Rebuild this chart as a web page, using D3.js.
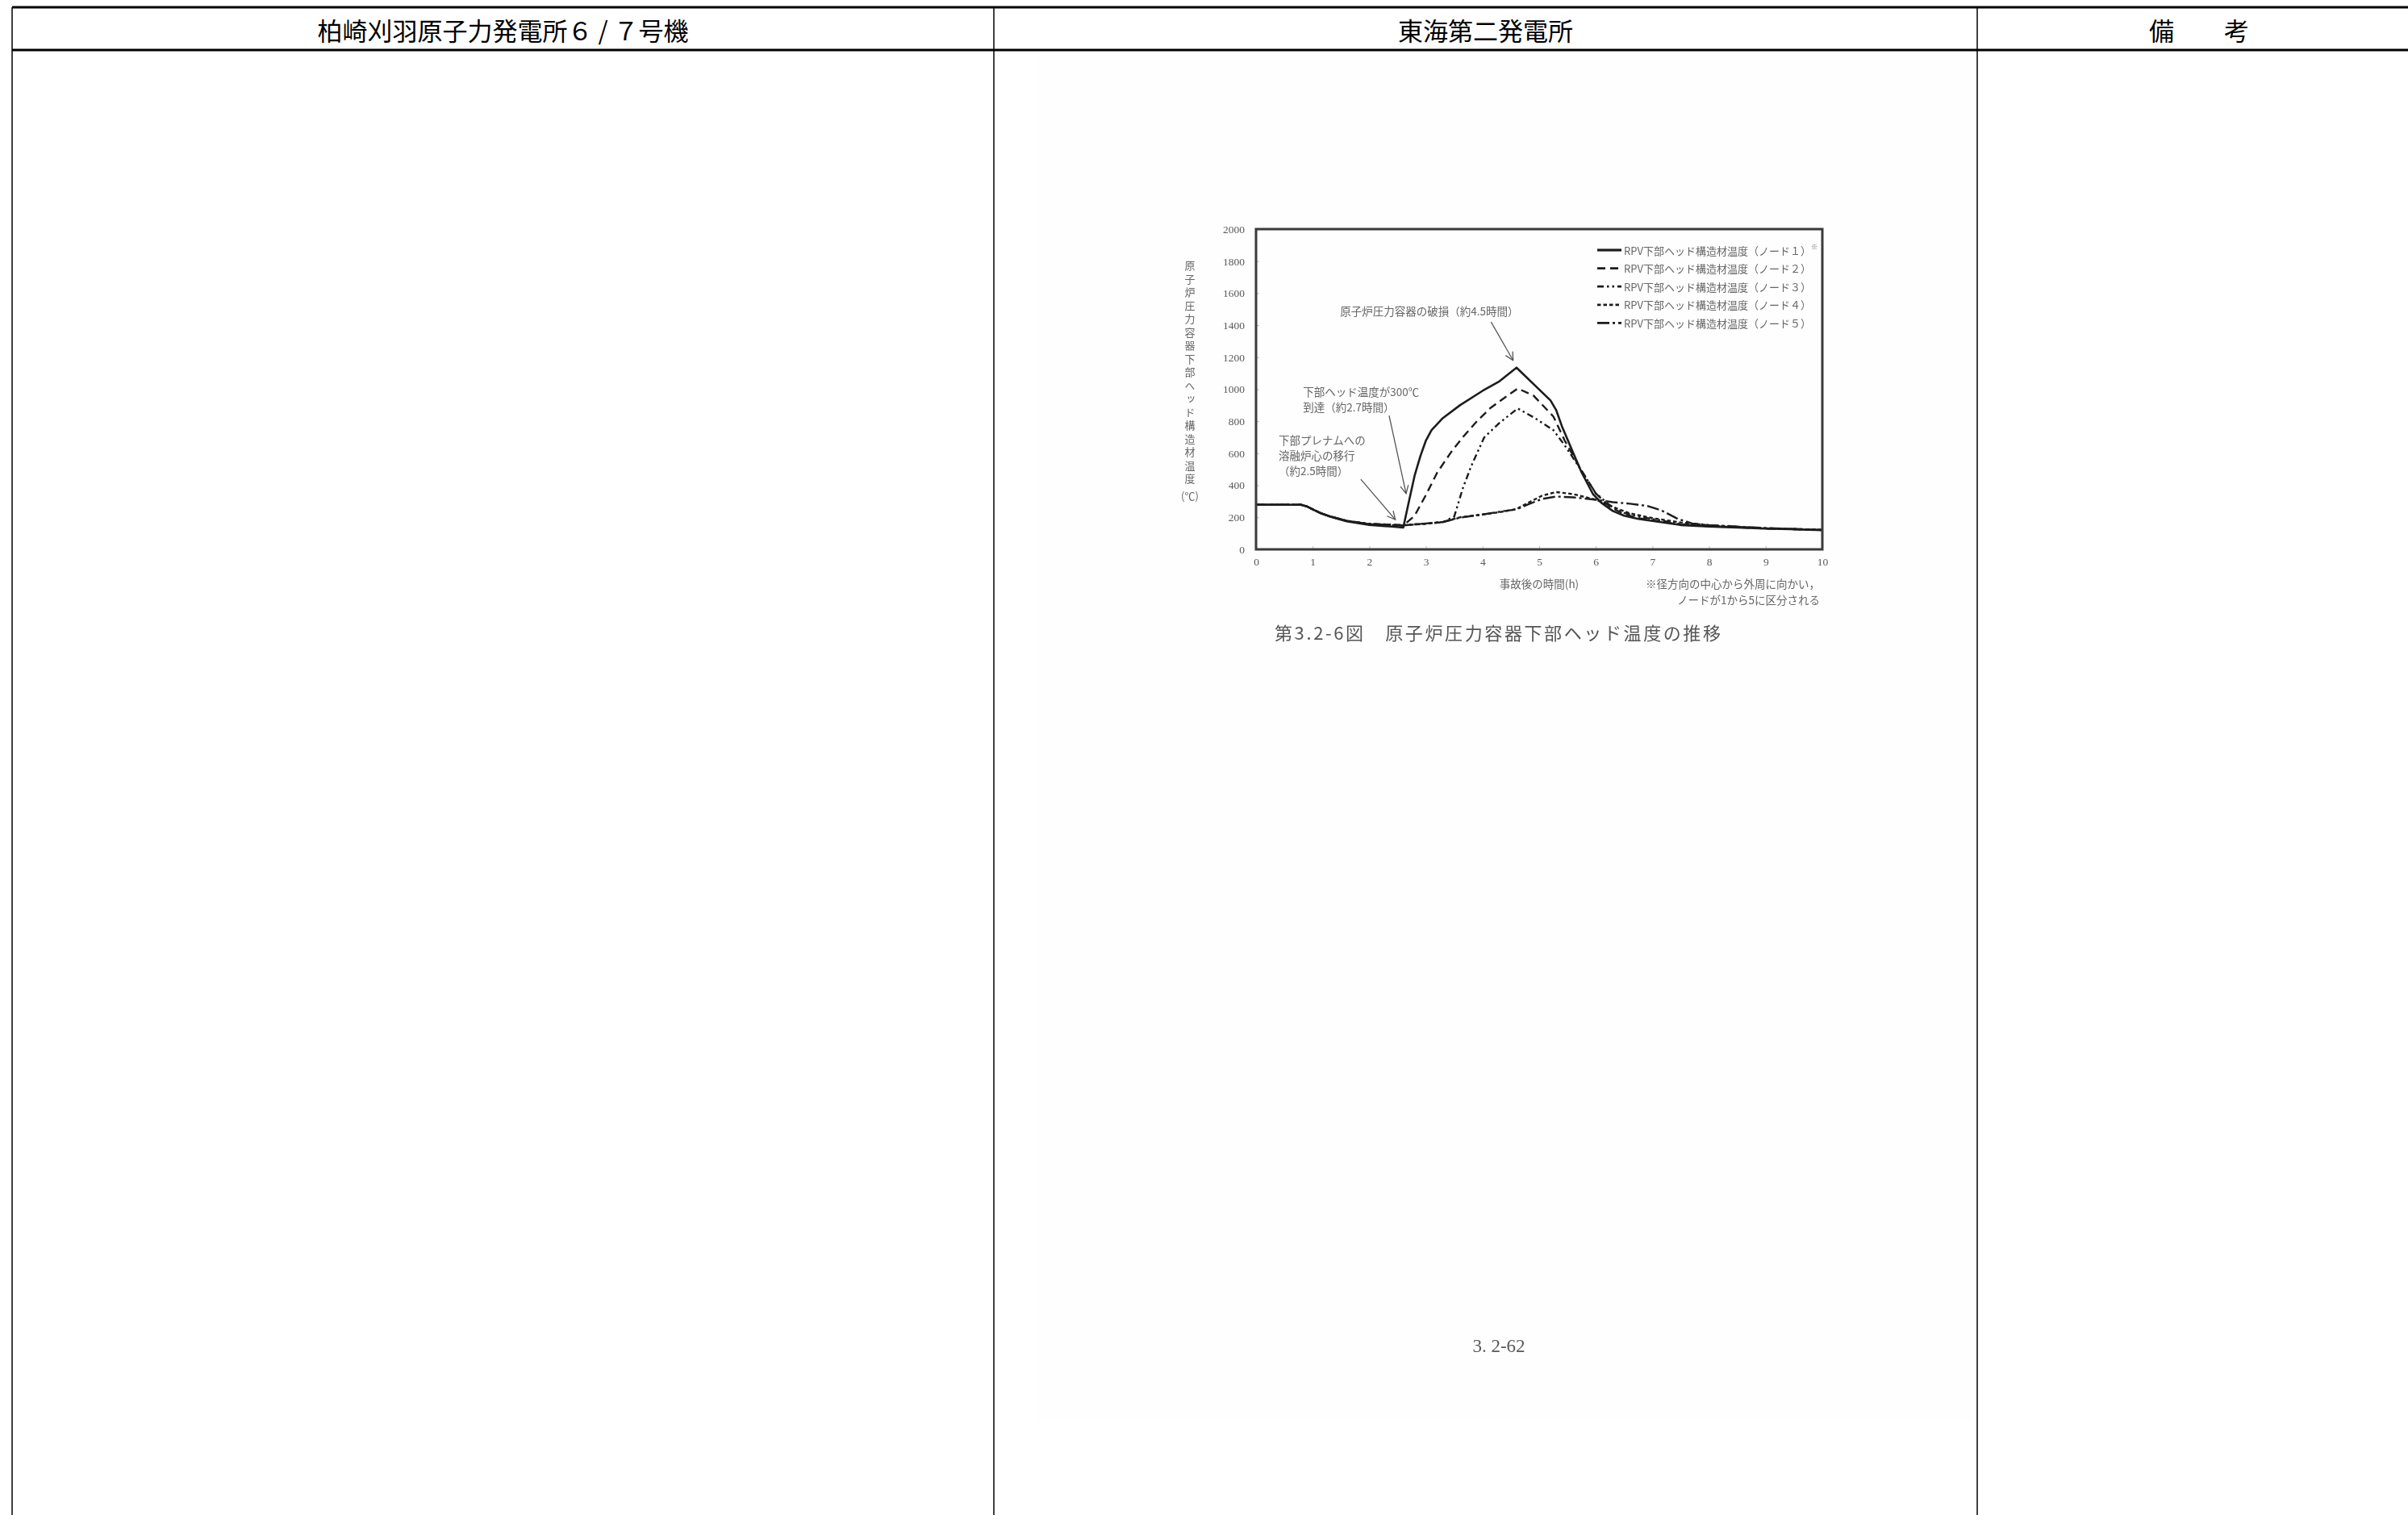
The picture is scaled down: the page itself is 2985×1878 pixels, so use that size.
<!DOCTYPE html>
<html>
<head>
<meta charset="utf-8">
<script src="https://cdn.jsdelivr.net/npm/d3@7"></script>
<style>
  html, body { margin: 0; padding: 0; background: #fff; }
  svg { display: block; }
</style>
</head>
<body>
<svg id="page" width="2985" height="1878"></svg>
<script>
// ---- table headings ----
const columnTitles = ["柏崎刈羽原子力発電所６ / ７号機", "東海第二発電所", "備　　考"];

// ---- axis ticks ----
const yTicks = [0, 200, 400, 600, 800, 1000, 1200, 1400, 1600, 1800, 2000];
const xTicks = [0, 1, 2, 3, 4, 5, 6, 7, 8, 9, 10];

// ---- lower-head structural temperature (°C) vs. time after accident (h) ----
const node1Time = [0, 0.8, 0.9, 1.0, 1.15, 1.3, 1.6, 2.0, 2.4, 2.6, 2.7, 2.8, 2.9, 3.0, 3.1, 3.3, 3.6, 4.0, 4.3, 4.6, 5.2, 5.3, 5.4, 5.55, 5.75, 5.95, 6.1, 6.3, 6.5, 6.75, 7.0, 7.5, 8.0, 9.0, 10];
const node1Temp = [278, 278, 268, 250, 225, 205, 175, 152, 142, 136, 300, 460, 580, 680, 745, 820, 900, 990, 1050, 1135, 930, 870, 770, 645, 480, 345, 290, 240, 210, 190, 178, 152, 142, 130, 120];

const node2Time = [0, 0.8, 0.9, 1.0, 1.15, 1.3, 1.6, 2.0, 2.4, 2.6, 2.8, 3.0, 3.2, 3.45, 3.65, 3.9, 4.13, 4.4, 4.62, 4.9, 5.25, 5.45, 5.75, 6.0, 6.25, 6.5, 6.75, 7.0, 7.5, 8.0, 9.0, 10];
const node2Temp = [278, 278, 268, 250, 225, 207, 178, 158, 152, 148, 210, 340, 480, 610, 700, 800, 880, 950, 1005, 960, 830, 680, 490, 350, 265, 220, 195, 182, 155, 145, 130, 121];

const node3Time = [0, 0.8, 0.9, 1.0, 1.15, 1.3, 1.6, 2.0, 2.4, 2.6, 3.0, 3.3, 3.5, 3.65, 3.8, 4.03, 4.3, 4.62, 4.9, 5.25, 5.45, 5.75, 6.0, 6.25, 6.5, 6.75, 7.0, 7.5, 8.0, 9.0, 10];
const node3Temp = [278, 278, 268, 250, 225, 207, 178, 160, 155, 152, 160, 170, 205, 380, 520, 700, 790, 880, 825, 745, 650, 490, 350, 275, 228, 205, 190, 158, 146, 131, 121];

const node4Time = [0, 0.8, 0.9, 1.0, 1.15, 1.3, 1.6, 2.0, 2.4, 2.6, 3.0, 3.3, 3.6, 4.0, 4.3, 4.6, 4.8, 5.05, 5.3, 5.6, 6.0, 6.3, 6.6, 7.0, 7.5, 8.0, 9.0, 10];
const node4Temp = [278, 278, 268, 250, 225, 207, 178, 158, 152, 150, 160, 172, 200, 218, 232, 252, 290, 335, 358, 345, 310, 265, 225, 195, 168, 150, 132, 122];

const node5Time = [0, 0.8, 0.9, 1.0, 1.15, 1.3, 1.6, 2.0, 2.4, 2.6, 3.0, 3.3, 3.6, 4.0, 4.3, 4.6, 4.8, 5.05, 5.3, 5.6, 6.0, 6.3, 6.6, 6.9, 7.15, 7.45, 7.7, 8.0, 9.0, 10];
const node5Temp = [278, 278, 268, 250, 225, 207, 178, 158, 152, 150, 162, 170, 198, 218, 235, 250, 280, 315, 330, 325, 310, 295, 285, 272, 245, 190, 162, 152, 133, 122];

const seriesNames = [
  "RPV下部ヘッド構造材温度（ノード１）",
  "RPV下部ヘッド構造材温度（ノード２）",
  "RPV下部ヘッド構造材温度（ノード３）",
  "RPV下部ヘッド構造材温度（ノード４）",
  "RPV下部ヘッド構造材温度（ノード５）"
];

// ---- event annotations: text lines, text anchor point (h, °C), arrow tail and tip (h, °C) ----
const breachLines = ["原子炉圧力容器の破損（約4.5時間）"];
const breachText = [3.06, 1490];
const breachArrow = [[4.15, 1420], [4.54, 1180]];

const reach300Lines = ["下部ヘッド温度が300℃", "到達（約2.7時間）"];
const reach300Text = [0.83, 985];
const reach300Arrow = [[2.35, 836], [2.65, 348]];

const relocationLines = ["下部プレナムへの", "溶融炉心の移行", "（約2.5時間）"];
const relocationText = [0.4, 683];
const relocationArrow = [[1.85, 438], [2.46, 186]];

const yTitle = "原子炉圧力容器下部ヘッド構造材温度";
const yUnit = "(℃)";
const xTitle = "事故後の時間(h)";
const nodeNote = ["※径方向の中心から外周に向かい，", "ノードが1から5に区分される"];
const caption = "第3.2-6図　原子炉圧力容器下部ヘッド温度の推移";
const pageNumber = "3. 2-62";

// ================= drawing =================
const svg = d3.select("#page");
const W = 2985, H = 1878;
const JP = "'Noto Sans CJK JP', 'Noto Sans', sans-serif";
const SERIF = "'Liberation Serif', 'DejaVu Serif', serif";

svg.append("rect").attr("width", W).attr("height", H).attr("fill", "#fff");

// faint scanned sheet behind the figure
svg.append("rect")
  .attr("x", 1286).attr("y", 66).attr("width", 1160).attr("height", 1696)
  .attr("fill", "#fefefe");

// ---- comparison table frame ----
const colX = [15, 1232, 2451, 3001];
const tableTop = 9, headBottom = 62;
const table = svg.append("g").attr("stroke", "#000");
table.append("line").attr("x1", colX[0]).attr("x2", W).attr("y1", tableTop).attr("y2", tableTop).attr("stroke-width", 3);
table.append("line").attr("x1", colX[0]).attr("x2", W).attr("y1", headBottom).attr("y2", headBottom).attr("stroke-width", 3);
colX.slice(0, 3).forEach(x => {
  table.append("line").attr("x1", x).attr("x2", x).attr("y1", tableTop).attr("y2", H).attr("stroke-width", 1.5);
});
svg.append("g").selectAll("text").data(columnTitles).join("text")
  .attr("x", (d, i) => (colX[i] + colX[i + 1]) / 2)
  .attr("y", (tableTop + headBottom) / 2 + 1)
  .attr("text-anchor", "middle").attr("dominant-baseline", "central")
  .attr("font-family", JP).attr("font-size", 31).attr("fill", "#000")
  .text(d => d);

// ---- figure ----
const defs = svg.append("defs");
defs.append("filter").attr("id", "scan").attr("x", "-5%").attr("y", "-5%").attr("width", "110%").attr("height", "110%")
  .append("feGaussianBlur").attr("stdDeviation", 0.6);
defs.append("marker").attr("id", "arrowhead")
  .attr("viewBox", "0 0 12 12").attr("refX", 11).attr("refY", 6)
  .attr("markerWidth", 12).attr("markerHeight", 12).attr("markerUnits", "userSpaceOnUse")
  .attr("orient", "auto")
  .append("path").attr("d", "M1,1 L11,6 L1,11").attr("fill", "none").attr("stroke", "#555").attr("stroke-width", 1.3);

const fig = svg.append("g").attr("filter", "url(#scan)");

const plot = { left: 1557, right: 2259, top: 284, bottom: 681 };
const x = d3.scaleLinear().domain([0, 10]).range([plot.left, plot.right]);
const y = d3.scaleLinear().domain([0, 2000]).range([plot.bottom, plot.top]);

// axes (labels only, small inward ticks)
const yAxis = fig.append("g").attr("transform", `translate(${plot.left},0)`)
  .call(d3.axisLeft(y).tickValues(yTicks).tickSize(-4).tickPadding(14).tickFormat(d3.format("d")));
const xAxis = fig.append("g").attr("transform", `translate(0,${plot.bottom})`)
  .call(d3.axisBottom(x).tickValues(xTicks).tickSize(-4).tickPadding(10).tickFormat(d3.format("d")));
[yAxis, xAxis].forEach(a => {
  a.select(".domain").remove();
  a.selectAll(".tick line").attr("stroke", "#bbb");
  a.selectAll(".tick text").attr("font-family", SERIF).attr("font-size", 13.5).attr("fill", "#5a5a5a");
});

// series lines
const seriesData = [
  [node1Time, node1Temp], [node2Time, node2Temp], [node3Time, node3Temp],
  [node4Time, node4Temp], [node5Time, node5Temp]
].map(([t, v]) => t.map((ti, i) => [ti, v[i]]));
const dashes = [null, "10,6", "8,4,2.5,4,2.5,4", "4.5,3", "15,4,3,4"];
const widths = [2.6, 2.4, 2.4, 2.4, 2.4];
const line = d3.line().x(d => x(d[0])).y(d => y(d[1])).curve(d3.curveLinear);

fig.append("g").selectAll("path").data(seriesData.slice().reverse()).join("path")
  .attr("d", line)
  .attr("fill", "none")
  .attr("stroke", "#1e1e1e")
  .attr("stroke-width", (d, i) => widths[4 - i])
  .attr("stroke-dasharray", (d, i) => dashes[4 - i])
  .attr("stroke-linejoin", "round");

// plot frame
fig.append("rect")
  .attr("x", plot.left).attr("y", plot.top)
  .attr("width", plot.right - plot.left).attr("height", plot.bottom - plot.top)
  .attr("fill", "none").attr("stroke", "#3a3a3a").attr("stroke-width", 3);

// legend
const legend = fig.append("g");
const legX = 1980, legY0 = 310, legStep = 22.6;
seriesNames.forEach((name, i) => {
  const ly = legY0 + i * legStep;
  legend.append("line")
    .attr("x1", legX).attr("x2", legX + 30).attr("y1", ly).attr("y2", ly)
    .attr("stroke", "#1e1e1e").attr("stroke-width", i === 0 ? 3.2 : 2.8)
    .attr("stroke-dasharray", dashes[i]);
  legend.append("text")
    .attr("x", legX + 33).attr("y", ly).attr("dominant-baseline", "central")
    .attr("font-family", JP).attr("font-size", 13).attr("fill", "#666")
    .text(name);
});
legend.append("text")
  .attr("x", 2245).attr("y", legY0 - 5).attr("dominant-baseline", "central")
  .attr("font-family", JP).attr("font-size", 8).attr("fill", "#666").text("※");

// annotations
function annotate(lines, anchorPt, arrow, anchor) {
  const g = fig.append("g");
  g.selectAll("text").data(lines).join("text")
    .attr("x", x(anchorPt[0]))
    .attr("y", (d, i) => y(anchorPt[1]) + i * 19)
    .attr("text-anchor", anchor).attr("dominant-baseline", "central")
    .attr("font-family", JP).attr("font-size", 13.5).attr("fill", "#666")
    .text(d => d);
  g.append("line")
    .attr("x1", x(arrow[0][0])).attr("y1", y(arrow[0][1]))
    .attr("x2", x(arrow[1][0])).attr("y2", y(arrow[1][1]))
    .attr("stroke", "#555").attr("stroke-width", 1.3)
    .attr("marker-end", "url(#arrowhead)");
}
annotate(breachLines, breachText, breachArrow, "middle");
annotate(reach300Lines, reach300Text, reach300Arrow, "start");
annotate(relocationLines, relocationText, relocationArrow, "start");

// axis titles and note
fig.append("text")
  .attr("x", 1475).attr("y", 323)
  .attr("font-family", JP).attr("font-size", 13).attr("fill", "#666")
  .attr("letter-spacing", 3.5)
  .style("writing-mode", "vertical-rl")
  .text(yTitle);
fig.append("text")
  .attr("x", 1475).attr("y", 614).attr("text-anchor", "middle").attr("dominant-baseline", "central")
  .attr("font-family", JP).attr("font-size", 13).attr("fill", "#666")
  .text(yUnit);
fig.append("text")
  .attr("x", 1908).attr("y", 723).attr("text-anchor", "middle").attr("dominant-baseline", "central")
  .attr("font-family", JP).attr("font-size", 13.5).attr("fill", "#666")
  .text(xTitle);
fig.append("g").selectAll("text").data(nodeNote).join("text")
  .attr("x", 2256).attr("y", (d, i) => 723 + i * 20)
  .attr("text-anchor", "end").attr("dominant-baseline", "central")
  .attr("font-family", JP).attr("font-size", 13.5).attr("fill", "#666")
  .text(d => d);

// figure caption
fig.append("text")
  .attr("x", 1580).attr("y", 783).attr("dominant-baseline", "central")
  .attr("font-family", JP).attr("font-size", 22).attr("fill", "#555")
  .attr("textLength", 553).attr("lengthAdjust", "spacing")
  .text(caption);

// page number
fig.append("text")
  .attr("x", 1858).attr("y", 1668).attr("text-anchor", "middle").attr("dominant-baseline", "central")
  .attr("font-family", SERIF).attr("font-size", 23).attr("fill", "#5a5a5a")
  .text(pageNumber);
</script>
</body>
</html>
